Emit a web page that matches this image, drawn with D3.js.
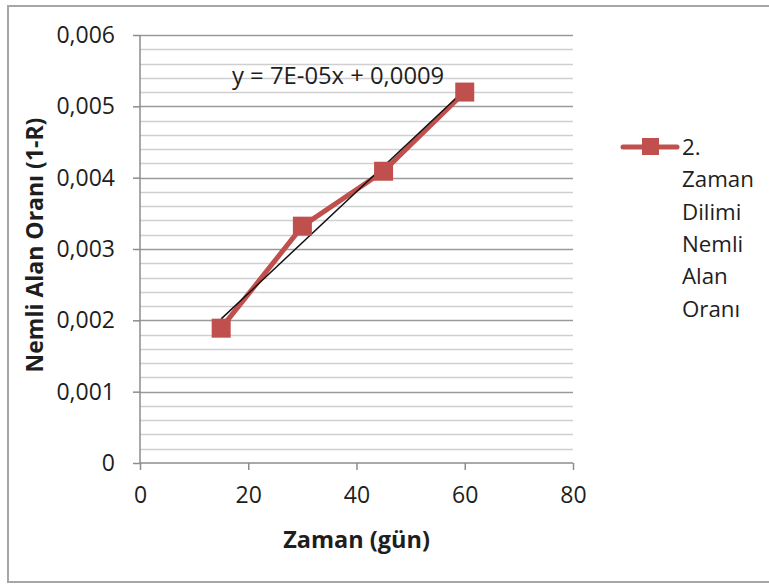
<!DOCTYPE html>
<html><head><meta charset="utf-8">
<script src="https://cdn.jsdelivr.net/npm/d3@7"></script>
<style>body{margin:0;background:#fff}svg{display:block}text{font-family:"Open Sans","Liberation Sans",sans-serif}</style>
</head><body><svg id="c" width="769" height="584"></svg>
<script>
const days = [15, 30, 45, 60];
const ratio = [0.00189, 0.00332, 0.00409, 0.0052];
const xTicks = [0, 20, 40, 60, 80];
const yTicks = [0, 0.001, 0.002, 0.003, 0.004, 0.005, 0.006];
const seriesName = ["2.", "Zaman", "Dilimi", "Nemli", "Alan", "Oranı"];
const equation = "y = 7E-05x + 0,0009";
const xTitle = "Zaman (gün)";
const yTitle = "Nemli Alan Oranı (1-R)";

const svg = d3.select("#c");
const red = "#c0504d";
const ink = "#1e1e1e";
const L = 140, R = 573, T = 35, B = 463;
const x = d3.scaleLinear().domain([0, 80]).range([L, R]);
const y = d3.scaleLinear().domain([0, 0.006]).range([B, T]);
const fmt = d => d === 0 ? "0" : d3.format(".3f")(d).replace(".", ",");

// frame
svg.append("rect").attr("x", 8).attr("y", 6).attr("width", 770).attr("height", 576)
  .attr("fill", "#fff").attr("stroke", "#a6a6a6").attr("stroke-width", 2);

// minor gridlines
const minor = d3.range(0, 0.006001, 0.0002).filter((d, i) => i % 5 !== 0);
svg.append("g").selectAll("line").data(minor).join("line")
  .attr("x1", L).attr("x2", R).attr("y1", d => Math.round(y(d)) + 0.5).attr("y2", d => Math.round(y(d)) + 0.5)
  .attr("stroke", "#cfcfcf").attr("stroke-width", 1.5);
// major gridlines
svg.append("g").selectAll("line").data(yTicks.slice(1)).join("line")
  .attr("x1", L).attr("x2", R).attr("y1", d => Math.round(y(d)) + 0.5).attr("y2", d => Math.round(y(d)) + 0.5)
  .attr("stroke", "#9a9a9a").attr("stroke-width", 1.5);

// axes
const yAxis = svg.append("g").attr("transform", `translate(${L},0)`)
  .call(d3.axisLeft(y).tickValues(yTicks).tickFormat(fmt).tickSize(7).tickPadding(18));
const xAxis = svg.append("g").attr("transform", `translate(0,${B})`)
  .call(d3.axisBottom(x).tickValues(xTicks).tickSize(7).tickPadding(17));
[yAxis, xAxis].forEach(a => {
  a.select(".domain").attr("stroke", "#8c8c8c").attr("stroke-width", 1.5);
  a.selectAll(".tick line").attr("stroke", "#8c8c8c").attr("stroke-width", 1.5);
  a.selectAll("text").attr("font-size", 23).attr("fill", ink)
   .attr("font-family", "'Open Sans','Liberation Sans',sans-serif");
});
xAxis.select(".domain").attr("d", `M${L},0H${R}`);
yAxis.select(".domain").attr("d", `M0,${B}V${T}`);

// series line
const line = d3.line().x((d, i) => x(days[i])).y(d => y(d));
svg.append("path").datum(ratio).attr("d", line).attr("fill", "none")
  .attr("stroke", red).attr("stroke-width", 5).attr("stroke-linejoin", "round");

// linear trendline from data
const mx = d3.mean(days), my = d3.mean(ratio);
const slope = d3.sum(days, (d, i) => (d - mx) * (ratio[i] - my)) / d3.sum(days, d => (d - mx) ** 2);
const icpt = my - slope * mx;
const ex = d3.extent(days);
svg.append("line").attr("x1", x(ex[0])).attr("y1", y(icpt + slope * ex[0]))
  .attr("x2", x(ex[1])).attr("y2", y(icpt + slope * ex[1]))
  .attr("stroke", "#111").attr("stroke-width", 1.5);

// markers
svg.append("g").selectAll("rect").data(ratio).join("rect")
  .attr("x", (d, i) => x(days[i]) - 9.5).attr("y", d => y(d) - 9.5)
  .attr("width", 19).attr("height", 19).attr("fill", red);

// equation
svg.append("text").attr("x", 232).attr("y", 84).attr("font-size", 23.8).attr("fill", ink).text(equation);

// titles
svg.append("text").attr("x", (L + R) / 2).attr("y", 548).attr("text-anchor", "middle")
  .attr("font-size", 23.5).attr("font-weight", "bold").attr("fill", ink).text(xTitle);
svg.append("text").attr("transform", `translate(43,245) rotate(-90)`).attr("text-anchor", "middle")
  .attr("font-size", 23).attr("font-weight", "bold").attr("fill", ink).text(yTitle);

// legend
const lg = svg.append("g");
lg.append("line").attr("x1", 623).attr("x2", 677).attr("y1", 147).attr("y2", 147)
  .attr("stroke", red).attr("stroke-width", 5).attr("stroke-linecap", "round");
lg.append("rect").attr("x", 642).attr("y", 138).attr("width", 17).attr("height", 17).attr("fill", red);
lg.selectAll("text").data(seriesName).join("text")
  .attr("x", 682).attr("y", (d, i) => 155 + i * 32.3).attr("font-size", 22.3).attr("fill", ink).text(d => d);
</script></body></html>
